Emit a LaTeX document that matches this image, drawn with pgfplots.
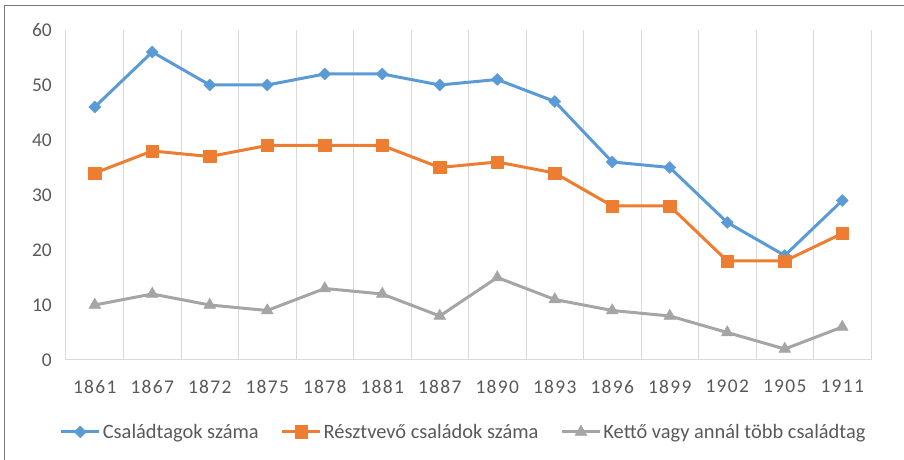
\documentclass[border=0pt]{standalone}
\usepackage{fontspec}
\setmainfont{Carlito}
\usepackage{pgfplots}
\pgfplotsset{compat=1.18}
\definecolor{cblue}{HTML}{5B9BD5}
\definecolor{corange}{HTML}{ED7D31}
\definecolor{cgray}{HTML}{A5A5A5}
\definecolor{ctext}{HTML}{595959}
\definecolor{cgrid}{HTML}{D9D9D9}
\definecolor{cframe}{HTML}{767676}
\begin{document}
\begin{tikzpicture}[x=1bp,y=1bp]
\useasboundingbox (-66,-100) rectangle (838,360);
\draw[cframe,line width=1bp] (-61.5,-120) rectangle (850,354.5);
\begin{axis}[
  at={(0,0)}, anchor=south west,
  width=805bp, height=330bp, scale only axis,
  xmin=-0.5, xmax=13.5, ymin=0, ymax=60,
  xtick={0,...,13},
  xticklabels={1861,1867,1872,1875,1878,1881,1887,1890,1893,1896,1899,1902,1905,1911},
  ytick={0,10,...,60},
  minor xtick={-0.5,0.5,...,13.5},
  xminorgrids, minor x grid style={cgrid,line width=1bp},
  major tick length=0pt, minor tick length=0pt,
  axis x line*=bottom, axis y line*=left,
  x axis line style={cgrid,line width=1bp,-},
  y axis line style={draw=none},
  /pgf/number format/assume math mode=true,
  ticklabel style={text=ctext},
  yticklabel style={font=\fontsize{19.5}{22}\selectfont, inner sep=0pt, xshift=-14bp},
  xticklabel style={font=\fontsize{19.5}{22}\selectfont\addfontfeature{LetterSpace=7}, inner sep=0pt, yshift=-20bp},
  legend columns=3,
  legend style={at={(0.494,-0.218)}, anchor=center, draw=none, fill=none,
    font=\fontsize{20.5}{24}\selectfont, text=ctext,
    /tikz/every even column/.append style={column sep=20bp},
    nodes={inner sep=2bp}},
  legend cell align=left,
  legend image code/.code={\draw[mark repeat=2,mark phase=2] plot coordinates {(0bp,0bp) (19bp,0bp) (38bp,0bp)};},
  every axis plot/.append style={line width=3bp, line join=round},
]
\addplot[cblue, line width=3bp, mark=square*, mark size=4.2bp, mark options={rotate=45, line width=0.5bp}] coordinates {
(0,46) (1,56) (2,50) (3,50) (4,52) (5,52) (6,50) (7,51) (8,47) (9,36) (10,35) (11,25) (12,19) (13,29)};
\addlegendentry{Családtagok száma}
\addplot[corange, line width=3bp, mark=square*, mark size=6.2bp, mark options={line width=0.5bp}] coordinates {
(0,34) (1,38) (2,37) (3,39) (4,39) (5,39) (6,35) (7,36) (8,34) (9,28) (10,28) (11,18) (12,18) (13,23)};
\addlegendentry{Résztvevő családok száma}
\addplot[cgray, line width=3bp, mark=triangle*, mark size=6.8bp, mark options={line width=0.5bp}] coordinates {
(0,10) (1,12) (2,10) (3,9) (4,13) (5,12) (6,8) (7,15) (8,11) (9,9) (10,8) (11,5) (12,2) (13,6)};
\addlegendentry{Kettő vagy annál több családtag}
\end{axis}
\end{tikzpicture}
\end{document}
